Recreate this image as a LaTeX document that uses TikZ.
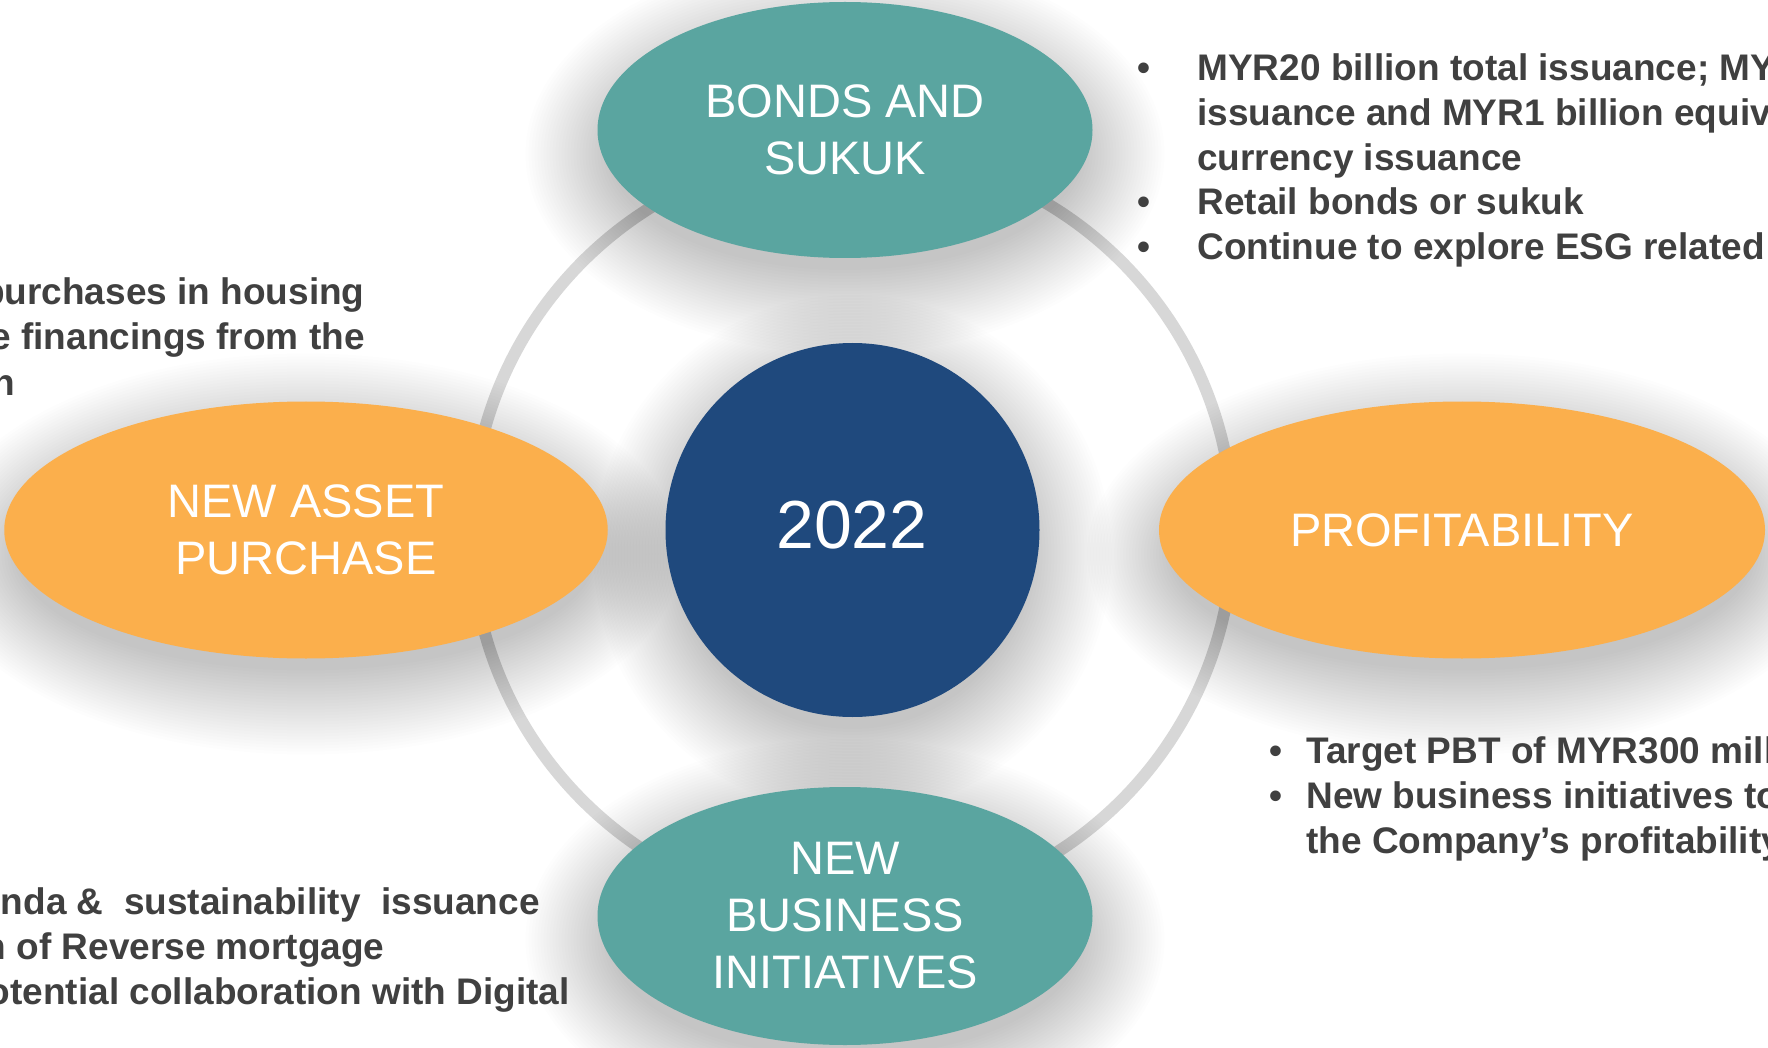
\documentclass[tikz,border=0pt]{standalone}
\usepackage{fontspec}
\setmainfont{Liberation Sans}
\usetikzlibrary{shapes.geometric}
\definecolor{tealfill}{HTML}{5AA5A0}
\definecolor{amberfill}{HTML}{FBAF4C}
\definecolor{navyfill}{HTML}{1F497D}
\definecolor{ink}{HTML}{404040}
\definecolor{ringgrey}{HTML}{D7D7D7}
% soft shadow: stacked translucent ellipses, shifted down
% #1,#2 centre, #3,#4 radii (all in picture units)
\newcommand\castshade[4]{%
  \foreach \s in {-12,-9,...,72}{%
    \fill[black, opacity=0.0085] (#1,#2+24) ellipse[x radius=#3+\s, y radius=#4+\s];
  }%
}
\tikzset{
  blob/.style={ellipse, inner sep=0pt, text=white, align=center,
      font=\fontsize{23.5pt}{28.5pt}\selectfont},
  note/.style={inner sep=0pt, text=ink, anchor=base west,
      font=\fontsize{18.5pt}{22.3pt}\selectfont\bfseries},
  noteR/.style={note, anchor=base east},
}
\begin{document}
\begin{tikzpicture}[x=0.5pt,y=-0.5pt]
\useasboundingbox (0,0) rectangle (1768,1048);
\fill[white] (0,0) rectangle (1768,1048);
\begin{scope}
\clip (0,0) rectangle (1768,1048);

% grey ring behind everything
\coordinate (ringc) at (852,531);
\draw[ringgrey, line width=6pt] (ringc) circle[radius=190.5pt];

% shadows under the disc and the ellipses
\castshade{852.5}{530}{187}{187}
\castshade{845}{130}{247.5}{128}
\castshade{306}{530}{301.75}{128.5}
\castshade{1462}{530}{303}{128.5}
\castshade{845}{916}{247.5}{129}

% central year disc
\node[circle, fill=navyfill, minimum size=187pt, inner sep=0pt] (hub) at (852.5,530) {};
\node[text=white, inner sep=0pt, font=\fontsize{34pt}{40pt}\selectfont] (year) at (852,525) {2022};

% four theme ellipses
\node[blob, fill=tealfill, minimum width=247.5pt, minimum height=128pt] (bonds) at (845,130) {BONDS AND\\SUKUK};
\node[blob, fill=amberfill, minimum width=301.75pt, minimum height=128.5pt] (asset) at (306,530) {NEW ASSET\\PURCHASE};
\node[blob, fill=amberfill, minimum width=303pt, minimum height=128.5pt] (profit) at (1462,530) {PROFITABILITY};
\node[blob, fill=tealfill, minimum width=247.5pt, minimum height=129pt] (newbiz) at (845,916) {NEW\\BUSINESS\\INITIATIVES};

% bonds and sukuk notes
\node[note] (b1) at (1137.5,81) {•};
\node[note] (t1) at (1197,81) {MYR20 billion total issuance; MYR};
\node[note] (t2) at (1197,125.6) {issuance and MYR1 billion equivalent};
\node[note] (t3) at (1197,170.2) {currency issuance};
\node[note] (b2) at (1137.5,214.8) {•};
\node[note] (t4) at (1197,214.8) {Retail bonds or sukuk};
\node[note] (b3) at (1137.5,259.4) {•};
\node[note] (t5) at (1197,259.4) {Continue to explore ESG related};

% new asset purchase notes
\node[noteR] (a1) at (365,305) {purchases in housing};
\node[noteR] (a2) at (365,350) {e financings from the};
\node[noteR] (a3) at (15.5,395) {n};

% new business initiative notes
\node[noteR] (n1) at (540,914.5) {nda \&\ \ sustainability\ \ issuance};
\node[noteR] (n2) at (385,959) {n of Reverse mortgage};
\node[noteR] (n3) at (570,1004) {otential collaboration with Digital};

% profitability notes
\node[note] (b4) at (1269.5,763) {•};
\node[note] (p1) at (1306,763) {Target PBT of MYR300 million};
\node[note] (b5) at (1269.5,808) {•};
\node[note] (p2) at (1306,808) {New business initiatives to};
\node[note] (p3) at (1306,853) {the Company’s profitability};
\end{scope}
\end{tikzpicture}
\end{document}
